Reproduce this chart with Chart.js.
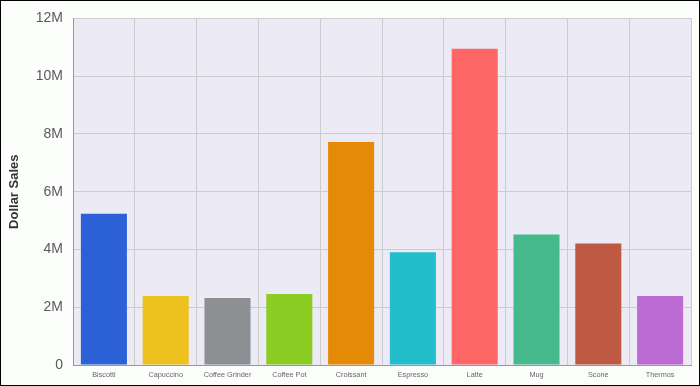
<!DOCTYPE html>
<html>
<head>
<meta charset="utf-8">
<script src="https://cdn.jsdelivr.net/npm/chart.js@4/dist/chart.umd.min.js"></script>
<style>
  html, body { margin: 0; padding: 0; background: #fcfefc; }
  #wrap { position: relative; width: 700px; height: 386px; }
</style>
</head>
<body>
<div id="wrap"><canvas id="c" width="700" height="386"></canvas></div>
<script>
const categories = ["Biscotti", "Capuccino", "Coffee Grinder", "Coffee Pot", "Croissant", "Espresso", "Latte", "Mug", "Scone", "Thermos"];
const salesValues = [5240000, 2390000, 2320000, 2460000, 7720000, 3900000, 10950000, 4520000, 4210000, 2390000];
const barColors = ["#2c60d6", "#edc11e", "#8c9093", "#8ccd24", "#e58a06", "#22becc", "#ff6666", "#47ba8d", "#be5a43", "#bc6bd4"];
const yTickValues = [0, 2000000, 4000000, 6000000, 8000000, 10000000, 12000000];
const yTickLabels = ["0", "2M", "4M", "6M", "8M", "10M", "12M"];
const yAxisTitle = "Dollar Sales";

const bgPlugin = {
  id: 'bg',
  beforeDraw(chart) {
    const ctx = chart.ctx, a = chart.chartArea;
    ctx.save();
    ctx.fillStyle = '#fcfefc';
    ctx.fillRect(0, 0, chart.width, chart.height);
    ctx.fillStyle = '#ebeaf5';
    ctx.fillRect(a.left, a.top, a.right - a.left, a.bottom - a.top);
    ctx.restore();
  },
  afterDraw(chart) {
    const ctx = chart.ctx;
    ctx.save();
    ctx.strokeStyle = '#000';
    ctx.lineWidth = 1;
    ctx.strokeRect(0.5, 0.5, chart.width - 1, chart.height - 1);
    ctx.restore();
  }
};

new Chart(document.getElementById('c'), {
  type: 'bar',
  data: {
    labels: categories,
    datasets: [{
      data: salesValues,
      backgroundColor: barColors,
      borderWidth: 0,
      barPercentage: 0.745,
      categoryPercentage: 1
    }]
  },
  options: {
    responsive: false,
    animation: false,
    devicePixelRatio: 1,
    layout: { padding: { top: 17, right: 9, left: 0, bottom: 0 } },
    plugins: { legend: { display: false }, tooltip: { enabled: false } },
    scales: {
      x: {
        afterFit(s) { s.height = 21; },
        grid: { color: '#cccccc', drawTicks: false, offset: true },
        border: { color: '#999999' },
        ticks: {
          color: '#666666',
          font: { family: 'Liberation Sans, Arial, sans-serif', size: 7.3 },
          padding: 6,
          maxRotation: 0,
          autoSkip: false
        }
      },
      y: {
        min: 0,
        max: 12000000,
        afterFit(s) { s.width = 73; },
        afterBuildTicks(s) { s.ticks = yTickValues.map(v => ({ value: v })); },
        grid: { color: '#cccccc', drawTicks: false },
        border: { color: '#999999' },
        title: {
          display: true,
          text: yAxisTitle,
          color: '#333333',
          font: { family: 'Liberation Sans, Arial, sans-serif', size: 13, weight: 'bold' },
          padding: { top: 7, bottom: 0 }
        },
        ticks: {
          color: '#5a5a5a',
          font: { family: 'Liberation Sans, Arial, sans-serif', size: 14 },
          padding: 10,
          callback(v) { const i = yTickValues.indexOf(v); return i >= 0 ? yTickLabels[i] : ''; }
        }
      }
    }
  },
  plugins: [bgPlugin]
});
</script>
</body>
</html>
